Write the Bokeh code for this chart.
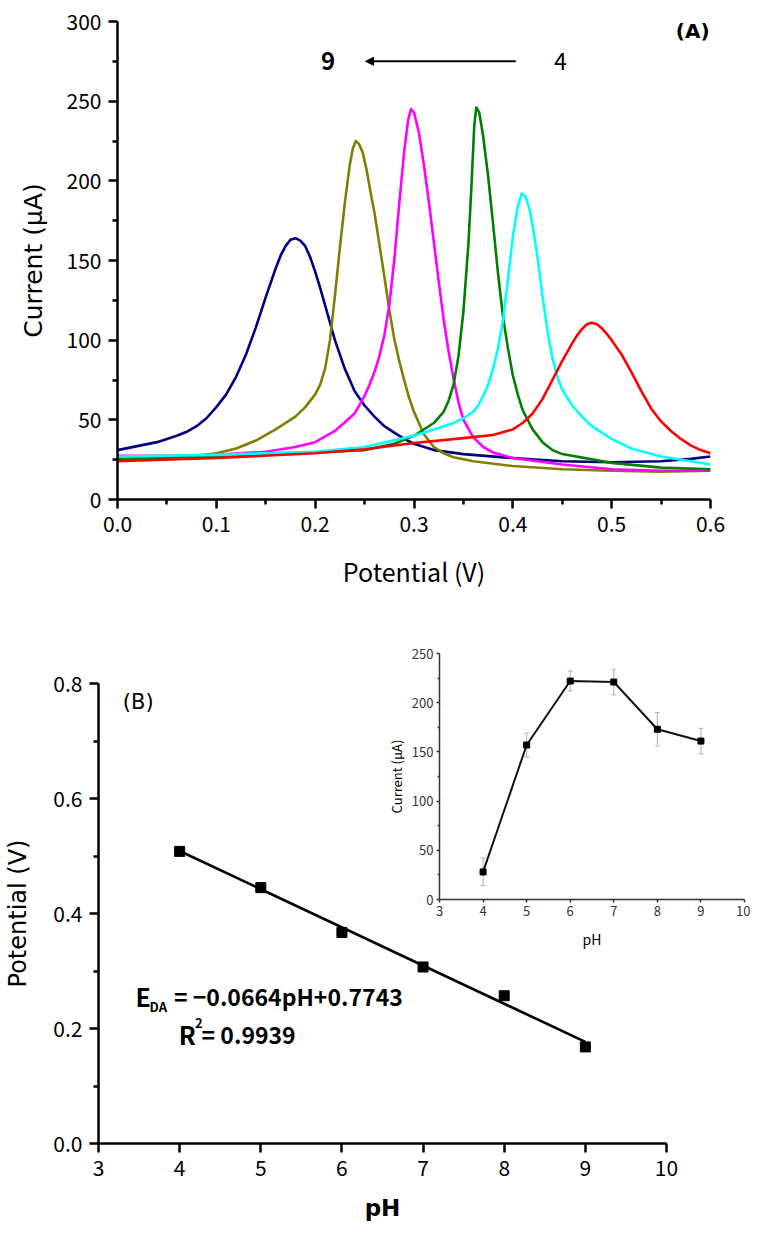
from bokeh.plotting import figure
from bokeh.models import (Range1d, Arrow, NormalHead, Label, Whisker, TeeHead,
                          ColumnDataSource, GridBox, FixedTicker, PrintfTickFormatter)
from bokeh.embed import file_html
from bokeh.resources import INLINE

# ---------------- Panel A: DPV curves (potential in V, current in uA) ----------------
ph9_x = [0.000, 0.020, 0.040, 0.060, 0.070, 0.080, 0.090, 0.100, 0.110, 0.120, 0.130, 0.140,
         0.150, 0.160, 0.165, 0.170, 0.175, 0.180, 0.185, 0.190, 0.195, 0.200, 0.205, 0.210,
         0.215, 0.220, 0.230, 0.240, 0.250, 0.260, 0.270, 0.280, 0.290, 0.300, 0.320, 0.350,
         0.400, 0.450, 0.500, 0.550, 0.580, 0.600]
ph9_y = [31, 33.5, 36, 40, 42.5, 46, 51, 58, 66, 77, 91, 108,
         127, 145, 153, 159, 163, 164, 162.5, 159, 152, 143, 133, 122,
         111, 100, 82, 68, 59, 52, 46, 42, 38, 35, 31, 28.5,
         26, 24, 23.4, 24, 25.5, 27]

ph8_x = [0.000, 0.040, 0.080, 0.100, 0.120, 0.140, 0.160, 0.180, 0.190, 0.200, 0.205, 0.210,
         0.215, 0.220, 0.225, 0.230, 0.235, 0.238, 0.241, 0.244, 0.248, 0.252, 0.256, 0.260,
         0.265, 0.270, 0.275, 0.280, 0.285, 0.290, 0.295, 0.300, 0.310, 0.320, 0.330, 0.340,
         0.360, 0.400, 0.450, 0.500, 0.550, 0.600]
ph8_y = [26, 26.5, 27.5, 29, 32, 37, 44, 52, 58, 66, 72, 82,
         100, 128, 158, 186, 210, 220, 225, 223.5, 218, 207, 193, 180,
         160, 140, 119, 101, 87, 75, 64, 55, 41, 33, 29, 26.5,
         24, 21, 19, 18, 17.5, 18]

ph7_x = [0.000, 0.050, 0.100, 0.150, 0.180, 0.200, 0.220, 0.240, 0.250, 0.255, 0.260, 0.265,
         0.270, 0.275, 0.280, 0.285, 0.290, 0.294, 0.297, 0.300, 0.305, 0.310, 0.315, 0.320,
         0.325, 0.330, 0.335, 0.340, 0.345, 0.350, 0.360, 0.370, 0.380, 0.400, 0.450, 0.500,
         0.550, 0.600]
ph7_y = [27.5, 27.5, 28, 30, 33, 36, 43, 54, 65, 72, 80, 90,
         103, 122, 150, 185, 218, 238, 245, 243, 230, 210, 187, 162,
         137, 113, 93, 76, 61, 50, 39, 33, 29.5, 26, 22, 19,
         18, 18]

ph6_x = [0.000, 0.100, 0.200, 0.250, 0.280, 0.300, 0.320, 0.330, 0.335, 0.340, 0.345, 0.350,
         0.355, 0.358, 0.361, 0.363, 0.366, 0.370, 0.375, 0.380, 0.385, 0.390, 0.395, 0.400,
         0.405, 0.410, 0.420, 0.430, 0.440, 0.450, 0.500, 0.550, 0.600]
ph6_y = [25, 27, 29.5, 31, 35, 40, 48, 55, 62, 72, 90, 118,
         160, 195, 235, 246, 243, 228, 203, 173, 142, 115, 95, 78,
         66, 56, 44, 36, 31, 28.5, 23, 20, 19]

ph5_x = [0.000, 0.100, 0.200, 0.250, 0.300, 0.320, 0.340, 0.350, 0.360, 0.365, 0.370, 0.375,
         0.380, 0.385, 0.390, 0.395, 0.400, 0.405, 0.409, 0.413, 0.417, 0.420, 0.425, 0.430,
         0.435, 0.440, 0.445, 0.450, 0.460, 0.470, 0.480, 0.490, 0.500, 0.520, 0.550, 0.580,
         0.600]
ph5_y = [27, 28, 30, 33, 40, 44, 48, 51, 55, 59, 65, 72,
         82, 95, 112, 138, 165, 184, 192, 190, 182, 172, 152, 128,
         106, 89, 77, 69, 59, 52, 46, 42, 38, 32, 27, 24,
         22]

ph4_x = [0.000, 0.100, 0.200, 0.250, 0.300, 0.350, 0.380, 0.400, 0.410, 0.420, 0.430, 0.440,
         0.450, 0.460, 0.465, 0.470, 0.475, 0.480, 0.485, 0.490, 0.495, 0.500, 0.510, 0.520,
         0.530, 0.540, 0.550, 0.560, 0.570, 0.580, 0.590, 0.600]
ph4_y = [24, 26, 29, 31.5, 35.5, 38.5, 40.5, 44, 48, 54, 63, 75,
         87, 98, 103, 107, 110, 111, 110, 107.5, 104, 100, 91, 80,
         68, 57, 49, 43, 38, 34, 31, 29]

curves_x = [ph9_x, ph8_x, ph7_x, ph6_x, ph5_x, ph4_x]
curves_y = [ph9_y, ph8_y, ph7_y, ph6_y, ph5_y, ph4_y]
curve_colors = ["#000080", "#808000", "#FF00FF", "#008000", "#00FFFF", "#FF0000"]

a_xticks = [0.0, 0.1, 0.2, 0.3, 0.4, 0.5, 0.6]
a_xminor = [0.05, 0.15, 0.25, 0.35, 0.45, 0.55]
a_yticks = [0, 50, 100, 150, 200, 250, 300]
a_yminor = [25, 75, 125, 175, 225, 275]

# ---------------- Panel B: peak potential vs pH ----------------
b_ph = [4, 5, 6, 7, 8, 9]
b_potential = [0.508, 0.445, 0.367, 0.307, 0.257, 0.168]
fit_slope = -0.0664
fit_intercept = 0.7743
b_xticks = [3, 4, 5, 6, 7, 8, 9, 10]
b_yticks = [0.0, 0.2, 0.4, 0.6, 0.8]
b_yminor = [0.1, 0.3, 0.5, 0.7]

# ---------------- Inset: peak current vs pH ----------------
inset_ph = [4, 5, 6, 7, 8, 9]
inset_current = [28, 157, 222, 221, 173, 161]
inset_err = [14, 12, 10, 13, 17, 13]
i_xticks = [3, 4, 5, 6, 7, 8, 9, 10]
i_yticks = [0, 50, 100, 150, 200, 250]
i_yminor = [25, 75, 125, 175, 225]

NARROW = "'Noto Sans CJK JP', 'Roboto', sans-serif"
WIDE = "'DejaVu Sans', Verdana, sans-serif"


def style_axes(p, tick_size, axis_w, tick_out, minor_out, standoff, color="black"):
    for ax in (p.xaxis[0], p.yaxis[0]):
        ax.axis_line_width = axis_w
        ax.axis_line_color = color
        ax.major_tick_line_width = axis_w
        ax.minor_tick_line_width = axis_w
        ax.major_tick_line_color = color
        ax.minor_tick_line_color = color
        ax.major_tick_in = 0
        ax.major_tick_out = tick_out
        ax.minor_tick_in = 0
        ax.minor_tick_out = minor_out
        ax.major_label_text_font = NARROW
        ax.major_label_text_font_size = tick_size
        ax.major_label_text_color = color
        ax.major_label_standoff = standoff
        ax.axis_label_text_font_style = "normal"
        ax.axis_label_text_color = "black"
    p.grid.visible = False
    p.outline_line_color = None


def label(p, x, y, text, font, size, bold=False, align="left"):
    p.add_layout(Label(x=x, y=y, text=text, text_font=font, text_font_size=size,
                       text_font_style="bold" if bold else "normal", text_color="black",
                       text_align=align, text_baseline="middle"))


# ---- Panel A figure ----
pA = figure(width=744, height=620, x_range=Range1d(0, 0.6), y_range=Range1d(0, 300),
            output_backend="svg", toolbar_location=None, frame_align=False,
            min_border_left=117, min_border_right=34, min_border_top=21, min_border_bottom=121)
style_axes(pA, "21px", 2.5, 9, 5, 7)
pA.xaxis.ticker = FixedTicker(ticks=a_xticks, minor_ticks=a_xminor)
pA.yaxis.ticker = FixedTicker(ticks=a_yticks, minor_ticks=a_yminor)
pA.xaxis.formatter = PrintfTickFormatter(format="%.1f")
pA.xaxis.axis_label = "Potential (V)"
pA.xaxis.axis_label_text_font = NARROW
pA.xaxis.axis_label_text_font_size = "25px"
pA.xaxis.axis_label_standoff = 18
pA.yaxis.axis_label = "Current (\u03bcA)"
pA.yaxis.axis_label_text_font = WIDE
pA.yaxis.axis_label_text_font_size = "25px"
pA.yaxis.axis_label_standoff = 16

for xs, ys, c in zip(curves_x, curves_y, curve_colors):
    pA.line(xs, ys, line_color=c, line_width=2.6, line_join="round")

pA.add_layout(Arrow(end=NormalHead(size=8, fill_color="black", line_color="black"),
                    x_start=0.403, y_start=275, x_end=0.251, y_end=275,
                    line_width=2, line_color="black"))
label(pA, 0.213, 275, "9", NARROW, "24px", bold=True, align="center")
label(pA, 0.448, 275, "4", NARROW, "23px", align="center")
label(pA, 0.582, 294, "(A)", WIDE, "20px", bold=True, align="center")

# ---- Panel B figure ----
pB = figure(width=744, height=603, x_range=Range1d(3, 10), y_range=Range1d(0, 0.8),
            output_backend="svg", toolbar_location=None, frame_align=False,
            min_border_left=98, min_border_right=78, min_border_top=63, min_border_bottom=80)
style_axes(pB, "21px", 2.5, 9, 5, 7)
pB.xaxis.ticker = FixedTicker(ticks=b_xticks)
pB.yaxis.ticker = FixedTicker(ticks=b_yticks, minor_ticks=b_yminor)
pB.yaxis.formatter = PrintfTickFormatter(format="%.1f")
pB.xaxis.axis_label = "pH"
pB.xaxis.axis_label_text_font = WIDE
pB.xaxis.axis_label_text_font_style = "bold"
pB.xaxis.axis_label_text_font_size = "23px"
pB.xaxis.axis_label_standoff = 16
pB.yaxis.axis_label = "Potential (V)"
pB.yaxis.axis_label_text_font = WIDE
pB.yaxis.axis_label_text_font_size = "24px"
pB.yaxis.axis_label_standoff = 18

fit_x = [b_ph[0], b_ph[-1]]
fit_y = [fit_intercept + fit_slope * v for v in fit_x]
pB.line(fit_x, fit_y, line_color="black", line_width=2.6)
pB.scatter(b_ph, b_potential, marker="square", size=10, color="black")

label(pB, 3.49, 0.767, "(B)", WIDE, "21px", align="center")
label(pB, 3.456, 0.257, "E", NARROW, "25px", bold=True)
label(pB, 3.63, 0.238, "DA", NARROW, "13px", bold=True)
label(pB, 3.93, 0.257, "= \u22120.0664pH+0.7743", NARROW, "23px", bold=True)
label(pB, 3.99, 0.191, "R", NARROW, "25px", bold=True)
label(pB, 4.19, 0.210, "2", NARROW, "13px", bold=True)
label(pB, 4.27, 0.191, "= 0.9939", NARROW, "23px", bold=True)

# ---- Inset figure (overlaid on panel B) ----
pI = figure(width=370, height=331, x_range=Range1d(3, 10), y_range=Range1d(0, 250),
            output_backend="svg", toolbar_location=None, frame_align=False,
            min_border_left=59, min_border_right=6, min_border_top=33, min_border_bottom=50,
            background_fill_alpha=0, border_fill_alpha=0, margin=(0, 0, 0, 380))
style_axes(pI, "13px", 1.5, 3, 2, 3, color="#333333")
pI.xaxis.ticker = FixedTicker(ticks=i_xticks)
pI.yaxis.ticker = FixedTicker(ticks=i_yticks, minor_ticks=i_yminor)
pI.xaxis.axis_label = "pH"
pI.xaxis.axis_label_text_font = NARROW
pI.xaxis.axis_label_text_font_size = "14px"
pI.xaxis.axis_label_standoff = 10
pI.yaxis.axis_label = "Current (\u03bcA)"
pI.yaxis.axis_label_text_font = NARROW
pI.yaxis.axis_label_text_font_size = "13px"
pI.yaxis.axis_label_standoff = 3

src = ColumnDataSource(dict(x=inset_ph, y=inset_current,
                            lo=[c - e for c, e in zip(inset_current, inset_err)],
                            hi=[c + e for c, e in zip(inset_current, inset_err)]))
pI.add_layout(Whisker(source=src, base="x", upper="hi", lower="lo",
                      line_color="#bbbbbb", line_width=1.2,
                      upper_head=TeeHead(size=5, line_color="#bbbbbb", line_width=1.2),
                      lower_head=TeeHead(size=5, line_color="#bbbbbb", line_width=1.2)))
pI.line("x", "y", source=src, line_color="#111111", line_width=2)
pI.scatter("x", "y", source=src, marker="square", size=6, color="black")

layout = GridBox(children=[(pA, 0, 0), (pB, 1, 0), (pI, 1, 0)])

open("out.html", "w").write(file_html(layout, INLINE))
